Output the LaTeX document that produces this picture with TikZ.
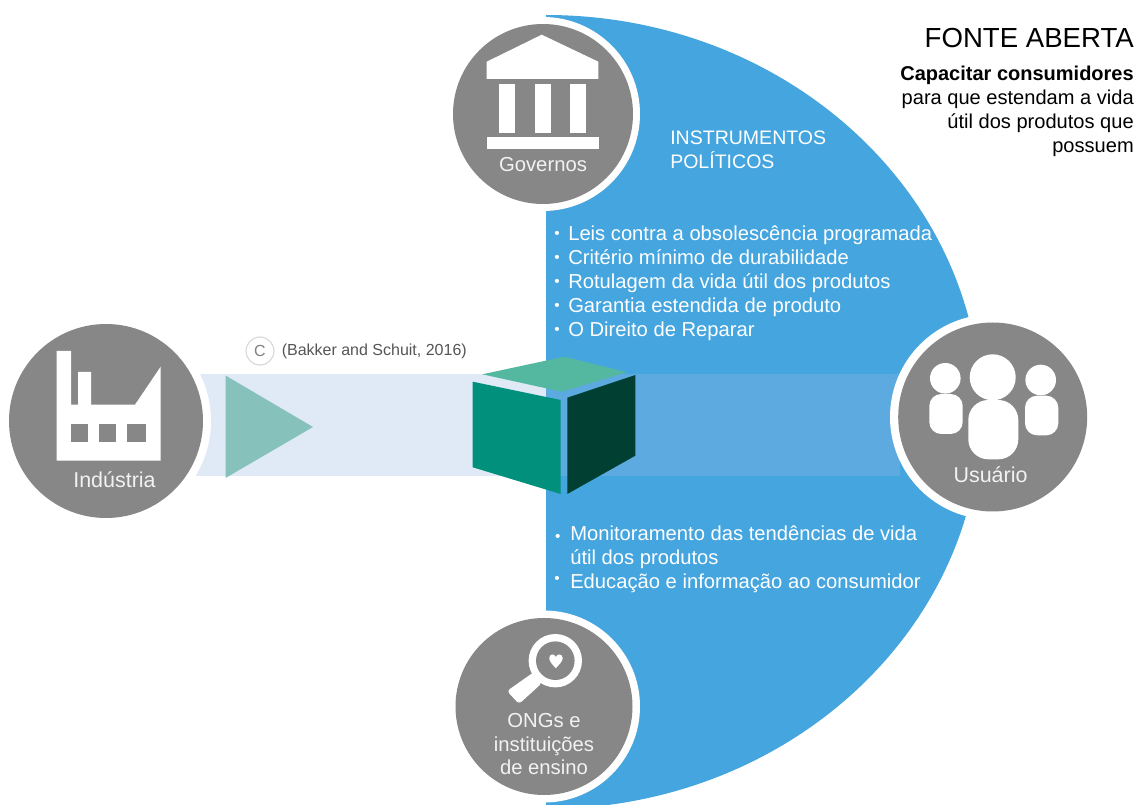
\documentclass[tikz,border=0pt]{standalone}
\usepackage{fontspec}
\setmainfont{Liberation Sans}
\definecolor{skyblue}{HTML}{45A5DF}
\definecolor{bandlight}{HTML}{DFEAF6}
\definecolor{banddark}{HTML}{5CAADF}
\definecolor{disc}{HTML}{878787}
\definecolor{tri}{HTML}{86C1BC}
\definecolor{cubetop}{HTML}{54B8A0}
\definecolor{cubeleft}{HTML}{00907C}
\definecolor{cuberight}{HTML}{003F32}
\definecolor{capt}{HTML}{555555}
\definecolor{softwhite}{HTML}{F2F2F2}
\tikzset{
  body/.style={anchor=base west,inner sep=0pt,text=white,font=\fontsize{15.15}{18}\selectfont},
  heading/.style={anchor=base west,inner sep=0pt,text=white,font=\fontsize{14.65}{18}\selectfont},
  disclabel/.style={anchor=base,inner sep=0pt,text=softwhite,font=\fontsize{15.2}{18}\selectfont},
  disclabelwide/.style={anchor=base,inner sep=0pt,text=softwhite,font=\fontsize{16.1}{18}\selectfont},
  blackline/.style={anchor=base east,inner sep=0pt,text=black,font=\fontsize{15.05}{18}\selectfont},
  bulletmark/.style={anchor=base,inner sep=0pt,text=white,font=\fontsize{11.5}{12}\selectfont},
}
\begin{document}
\begin{tikzpicture}[x=0.75pt,y=-0.75pt]
\useasboundingbox (0,0) rectangle (1140,805);
% blue half ellipse
\begin{scope}
  \clip (546,0) rectangle (1140,805);
  \fill[skyblue] (546,412) ellipse [x radius=435,y radius=397];
\end{scope}
% band
\fill[bandlight] (190,374) rectangle (546,476);
\fill[banddark] (546,374) rectangle (900,476);
% triangle
\fill[tri] (225.5,375.5) -- (225.5,478) -- (313,427) -- cycle;
% cube
\fill[cubetop] (482.3,374.3) -- (564.3,356.7) -- (626.7,372.3) -- (561.7,391.7) -- cycle;
\fill[cubeleft] (472.7,381.7) -- (560.7,400) -- (560.7,494) -- (472.7,467.3) -- cycle;
\fill[cuberight] (567.3,397.7) -- (635.3,375) -- (635.3,455.7) -- (567.3,494) -- cycle;
% rings and discs
\fill[white] (543,114) circle [radius=97];
\fill[disc] (543,114) circle [radius=90];
\fill[white] (106,421) circle [radius=105];
\fill[disc] (106,421) circle [radius=97];
\fill[white] (992.7,417) circle [radius=102.7];
\fill[disc] (992.7,417) circle [radius=94.5];
\fill[white] (544,706.5) circle [radius=96];
\fill[disc] (544,706.5) circle [radius=88.5];
% government icon
\fill[white] (541.7,34.7) -- (598.3,61.7) -- (598.3,79) -- (486.7,79) -- (486.7,61.7) -- cycle;
\fill[white] (499,84) rectangle (515,132.7);
\fill[white] (535,84) rectangle (551,132.7);
\fill[white] (570,84) rectangle (586,132.7);
\fill[white] (486.7,137) rectangle (599,148.7);
% factory icon
\fill[white] (56.7,351) -- (71,351) -- (71,404.7) -- (78,404.7) -- (78,372) -- (91,372) -- (91,404.7) -- (135,404.7) -- (160.7,366.7) -- (160.7,460.7) -- (56.7,460.7) -- cycle;
\fill[disc] (71,424) rectangle (88,442);
\fill[disc] (99,424) rectangle (116,442);
\fill[disc] (127,424) rectangle (146,442);
% users icon
\fill[white] (945.3,378.3) circle [radius=15.3];
\fill[white,rounded corners=9pt] (929.3,394) rectangle (962.7,434);
\fill[white] (992.7,377.3) circle [radius=23];
\fill[white,rounded corners=15pt] (968.3,400) rectangle (1018.3,459.3);
\fill[white] (1040.7,380) circle [radius=15.3];
\fill[white,rounded corners=9pt] (1025,395.7) rectangle (1058.3,435.3);
% magnifier icon
\fill[white,rounded corners=2.5pt] (534,672) -- (507,691) -- (519,704) -- (542,683) -- cycle;
\fill[white] (555.3,660.7) circle [radius=26.7];
\fill[disc] (555.3,660.7) circle [radius=19.3];
\fill[white] (555.8,668.3) .. controls (552,664) and (549.3,661.5) .. (549.3,658) .. controls (549.3,654) and (554.5,653) .. (555.8,657) .. controls (557,653) and (562.7,654) .. (562.7,658) .. controls (562.7,661.5) and (559.5,664) .. (555.8,668.3) -- cycle;
\begin{scope}[yshift=-0.75pt]
% disc labels
\node[disclabel] (gov) at (543,171) {Governos};
\node[disclabelwide] (ind) at (114.5,487) {Indústria};
\node[disclabelwide] (usu) at (990.5,482) {Usuário};
\node[disclabel] (ong1) at (544,726) {ONGs e};
\node[disclabel] (ong2) at (544,750) {instituições};
\node[disclabel] (ong3) at (544,773) {de ensino};
% heading
\node[anchor=base east,inner sep=0pt,text=black,font=\fontsize{20.7}{24}\selectfont] (title) at (1134,47) {FONTE ABERTA};
\node[blackline,font=\fontsize{15}{18}\selectfont\bfseries] (t1) at (1134,79.5) {Capacitar consumidores};
\node[blackline] (t2) at (1134,103.5) {para que estendam a vida};
\node[blackline] (t3) at (1134,128) {útil dos produtos que};
\node[blackline] (t4) at (1134,152) {possuem};
% instruments
\node[heading] (ins1) at (670,143.5) {INSTRUMENTOS};
\node[heading] (ins2) at (670,167.5) {POLÍTICOS};
\node[bulletmark] (b1) at (557,238) {•};
\node[body] (l1) at (568,240) {Leis contra a obsolescência programada};
\node[bulletmark] (b2) at (557,262) {•};
\node[body] (l2) at (568,264) {Critério mínimo de durabilidade};
\node[bulletmark] (b3) at (557,286) {•};
\node[body] (l3) at (568,288) {Rotulagem da vida útil dos produtos};
\node[bulletmark] (b4) at (557,310) {•};
\node[body] (l4) at (568,312) {Garantia estendida de produto};
\node[bulletmark] (b5) at (557,334) {•};
\node[body] (l5) at (568,336) {O Direito de Reparar};
\node[bulletmark] (b6) at (557.7,540.5) {•};
\node[body] (m1) at (570,539.5) {Monitoramento das tendências de vida};
\node[body] (m2) at (570,563.5) {útil dos produtos};
\node[bulletmark] (b7) at (557,583) {•};
\node[body] (m3) at (570,587.5) {Educação e informação ao consumidor};
% citation
\node[draw=black!15,line width=0.9pt,circle,minimum size=21pt,inner sep=0pt,text=black!50,font=\fontsize{12}{14}\selectfont] (cmark) at (260,350) {C};
\node[anchor=base west,inner sep=0pt,text=capt,font=\fontsize{12}{14}\selectfont] (cite) at (281.5,355) {(Bakker and Schuit, 2016)};
\end{scope}
\end{tikzpicture}
\end{document}
